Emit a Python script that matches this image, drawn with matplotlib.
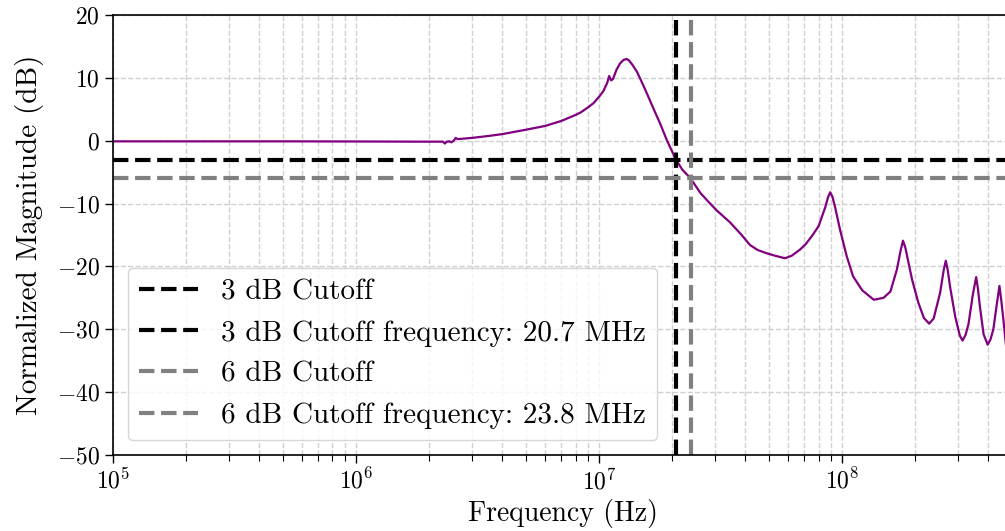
import matplotlib
matplotlib.use("Agg")
import matplotlib.pyplot as plt
import numpy as np

# Measured frequency response (Hz, normalized dB)
freq_hz = [
    1e5, 2e5, 5e5, 1e6, 1.8e6, 2.28e6, 2.32e6, 2.36e6, 2.42e6, 2.47e6,
    2.53e6, 2.57e6, 2.62e6, 3.0e6, 3.5e6, 4.0e6, 5.0e6, 6.0e6, 7.0e6, 8.0e6,
    8.4e6, 9.0e6, 9.5e6, 1.0e7, 1.04e7, 1.08e7, 1.10e7, 1.12e7, 1.14e7, 1.18e7,
    1.22e7, 1.26e7, 1.30e7, 1.33e7, 1.37e7, 1.43e7, 1.50e7, 1.57e7, 1.67e7, 1.78e7,
    1.90e7, 2.07e7, 2.20e7, 2.38e7, 2.61e7, 2.80e7, 3.05e7, 3.46e7, 3.86e7, 4.18e7,
    4.5e7, 4.89e7, 5.3e7, 5.82e7, 6.2e7, 6.72e7, 7.1e7, 7.5e7, 8.0e7, 8.52e7,
    8.75e7, 8.93e7, 9.12e7, 9.36e7, 9.81e7, 1.045e8, 1.11e8, 1.21e8, 1.35e8, 1.48e8,
    1.58e8, 1.68e8, 1.74e8, 1.78e8, 1.82e8, 1.94e8, 2.06e8, 2.17e8, 2.28e8, 2.38e8,
    2.53e8, 2.62e8, 2.67e8, 2.72e8, 2.78e8, 2.92e8, 3.05e8, 3.13e8, 3.22e8, 3.31e8,
    3.45e8, 3.56e8, 3.62e8, 3.69e8, 3.82e8, 3.97e8, 4.08e8, 4.19e8, 4.33e8, 4.44e8,
    4.52e8, 4.61e8, 4.75e8,
]
magnitude_db = [
    -0.1, -0.1, -0.1, -0.12, -0.15, -0.15, -0.45, -0.15, -0.1, -0.25,
    0.05, 0.45, 0.25, 0.45, 0.75, 1.05, 1.75, 2.35, 3.15, 4.1,
    4.5, 5.3, 6.0, 7.0, 7.85, 9.2, 10.3, 9.6, 9.8, 11.3,
    12.3, 12.85, 13.0, 12.75, 12.1, 11.0, 9.3, 7.6, 5.2, 2.8,
    0.1, -3.0, -4.6, -6.0, -8.3, -9.6, -11.1, -13.0, -15.0, -16.6,
    -17.4, -17.9, -18.3, -18.7, -18.3, -17.3, -16.4, -15.2, -13.6, -10.6,
    -9.0, -8.2, -8.9, -10.6, -14.2, -18.4, -21.6, -23.8, -25.3, -25.0,
    -24.0, -20.5, -17.5, -15.9, -17.0, -22.1, -25.8, -28.2, -29.1, -28.3,
    -24.2, -20.5, -19.1, -20.6, -23.2, -28.0, -31.0, -31.8, -30.9, -29.2,
    -24.5, -21.7, -23.5, -26.4, -30.8, -32.45, -31.6, -30.0, -26.0, -23.1,
    -25.5, -28.5, -33.5,
]

cutoff_db = [3, 6]
cutoff_freq_mhz = [20.7, 23.8]
cutoff_colors = ["black", "gray"]

plt.rcParams.update({
    "font.family": "serif",
    "font.serif": ["cmr10"],
    "mathtext.fontset": "cm",
    "axes.formatter.use_mathtext": True,
    "axes.unicode_minus": True,
})

fig = plt.figure(figsize=(10.05, 5.31), dpi=100)
ax = fig.add_axes([113 / 1005, 76 / 531, 899 / 1005, 440 / 531])

ax.semilogx(freq_hz, magnitude_db, color="purple", lw=1.6)

for level, fc, col in zip(cutoff_db, cutoff_freq_mhz, cutoff_colors):
    ax.axhline(-level, color=col, ls="--", lw=3, label=f"{level} dB Cutoff")
    ax.axvline(fc * 1e6, color=col, ls="--", lw=3,
               label=f"{level} dB Cutoff frequency: {fc} MHz")

ax.set_xlim(1e5, 5e8)
ax.set_ylim(-50, 20)
ax.set_yticks(np.arange(-50, 21, 10))

ax.grid(True, which="major", ls="--", color="#d0d0d0", lw=1)
ax.grid(True, which="minor", axis="x", ls="--", color="#d0d0d0", lw=1)

ax.tick_params(which="major", labelsize=17, length=6, width=1)
ax.tick_params(which="minor", length=4, width=0.8)
for sp in ax.spines.values():
    sp.set_linewidth(1.2)

ax.set_xlabel("Frequency (Hz)", fontsize=20)
ax.set_ylabel("Normalized Magnitude (dB)", fontsize=21, labelpad=9)

ax.legend(loc="lower left", fontsize=21, framealpha=0.8)

fig.savefig("out.png", dpi=100)
